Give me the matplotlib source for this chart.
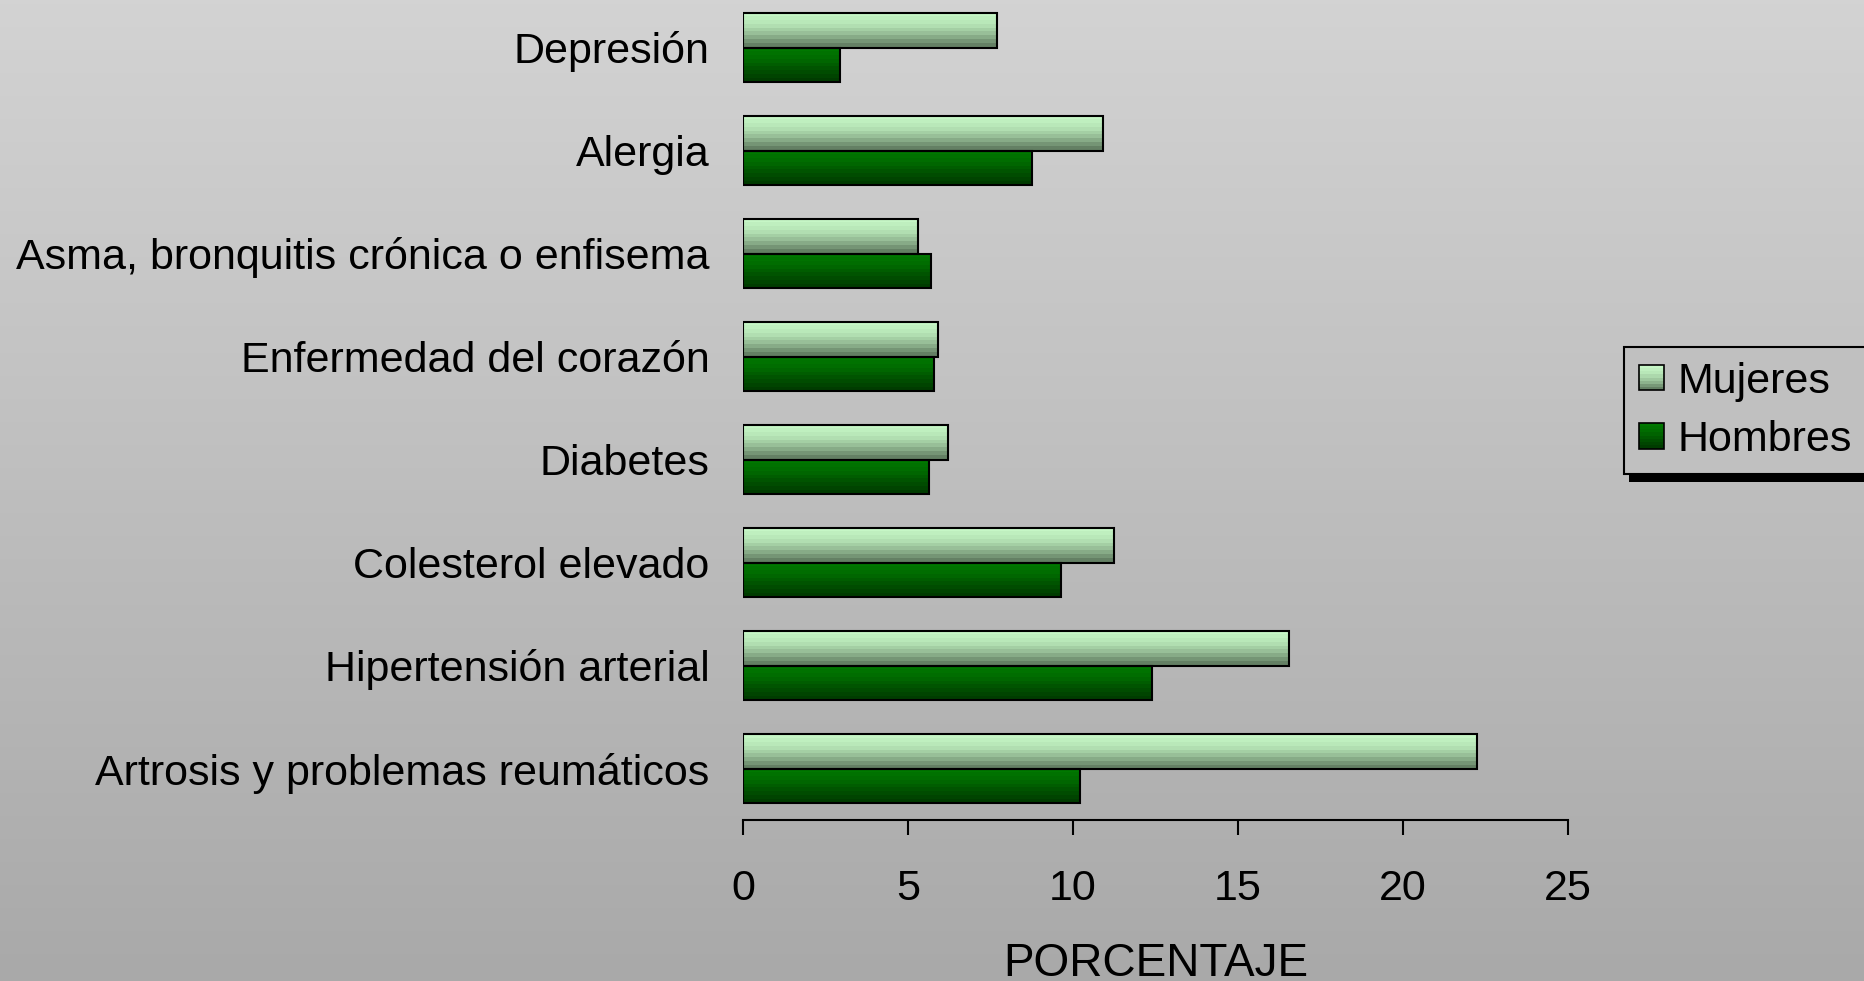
import numpy as np
import matplotlib
matplotlib.use("Agg")
import matplotlib.pyplot as plt
from matplotlib.colors import LinearSegmentedColormap
from matplotlib.patches import Rectangle
from matplotlib.legend_handler import HandlerBase

plt.rcParams['font.family'] = ['Liberation Sans', 'DejaVu Sans']

categories = ["Artrosis y problemas reumáticos", "Hipertensión arterial", "Colesterol elevado",
              "Diabetes", "Enfermedad del corazón", "Asma, bronquitis crónica o enfisema",
              "Alergia", "Depresión"]
mujeres = [22.25, 16.55, 11.25, 6.2, 5.9, 5.3, 10.9, 7.7]
hombres = [10.2, 12.4, 9.65, 5.65, 5.8, 5.7, 8.75, 2.95]
series_labels = ["Mujeres", "Hombres"]
xticks = [0, 5, 10, 15, 20, 25]
xlabel = "PORCENTAJE"

W, H, DPI = 1864, 981, 100
fig = plt.figure(figsize=(W / DPI, H / DPI), dpi=DPI)

# background gradient
bg = fig.add_axes([0, 0, 1, 1], zorder=-10)
grad = np.linspace(0, 1, 256).reshape(-1, 1)
bg_cmap = LinearSegmentedColormap.from_list("bg", ["#d3d3d3", "#a9a9a9"])
bg.imshow(grad, aspect='auto', cmap=bg_cmap, extent=[0, 1, 0, 1], origin='upper')
bg.set_axis_off()

cm_m = LinearSegmentedColormap.from_list("m", ["#c6f6c6", "#b6e4b6", "#94bb94", "#648064"])
cm_h = LinearSegmentedColormap.from_list("h", ["#007800", "#006a00", "#005200", "#003c00"])

ax = fig.add_axes([743 / W, 1 - 820 / H, 825 / W, 824 / H])
ax.patch.set_alpha(0)

y = np.arange(len(categories))
h = 0.335
bars_m = ax.barh(y + h / 2, mujeres, height=h, facecolor="none", edgecolor="black", linewidth=1.5, zorder=4)
bars_h = ax.barh(y - h / 2, hombres, height=h, facecolor="none", edgecolor="black", linewidth=1.5, zorder=4)

nb = 9
bands = np.linspace(0, 1, nb).reshape(-1, 1)
for bars, cm in ((bars_m, cm_m), (bars_h, cm_h)):
    for b in bars:
        x0, y0, bw, bh = b.get_x(), b.get_y(), b.get_width(), b.get_height()
        ax.imshow(bands, cmap=cm, aspect='auto', interpolation='nearest',
                  extent=[x0, x0 + bw, y0, y0 + bh], origin='upper', zorder=3)

ax.set_xlim(0, 25)
ax.set_ylim(-0.5, 7.5)
ax.set_xticks(xticks)
ax.set_xticklabels([str(t) for t in xticks])
ax.set_yticks(y)
ax.set_yticklabels(categories)
for s in ("top", "right", "left"):
    ax.spines[s].set_visible(False)
ax.spines["bottom"].set_linewidth(1.5)
ax.tick_params(axis='x', length=11, width=1.5, direction='out', labelsize=31, pad=24)
ax.tick_params(axis='y', length=0, labelsize=31, pad=24)
ax.set_xlabel(xlabel, fontsize=33, labelpad=24)


class GradHandler(HandlerBase):
    def __init__(self, cmap):
        super().__init__()
        self.cmap = cmap

    def create_artists(self, legend, orig_handle, xdescent, ydescent, width, height, fontsize, trans):
        side = min(width, height * 1.4)
        x0 = -xdescent + (width - side) / 2
        y0 = -ydescent + (height - side) / 2
        arts = []
        n = 8
        for i in range(n):
            c = self.cmap(1 - i / (n - 1))
            arts.append(Rectangle((x0, y0 + side * i / n), side, side / n, facecolor=c,
                                  edgecolor='none', transform=trans))
        arts.append(Rectangle((x0, y0), side, side, facecolor='none', edgecolor='black',
                              linewidth=1.2, transform=trans))
        return arts


leg = fig.legend([bars_m, bars_h], series_labels, loc='upper left',
                 bbox_to_anchor=(1624 / W, 1 - 347 / H), bbox_transform=fig.transFigure,
                 fontsize=31, frameon=True, fancybox=False, facecolor="#c0c0c0",
                 edgecolor='black', framealpha=1, borderpad=0.34, labelspacing=0.42,
                 handlelength=0.6, handletextpad=0.3, borderaxespad=0,
                 handler_map={bars_m: GradHandler(cm_m), bars_h: GradHandler(cm_h)})
leg.get_frame().set_linewidth(1.5)

fig.canvas.draw()
bb = leg.get_window_extent()
shadow = Rectangle((bb.x0 + 5, bb.y0 - 8), bb.width, bb.height, facecolor='black',
                   edgecolor='none', transform=None, zorder=-5)
fig.add_artist(shadow)
leg.set_zorder(10)

fig.savefig("out.png", dpi=DPI)
